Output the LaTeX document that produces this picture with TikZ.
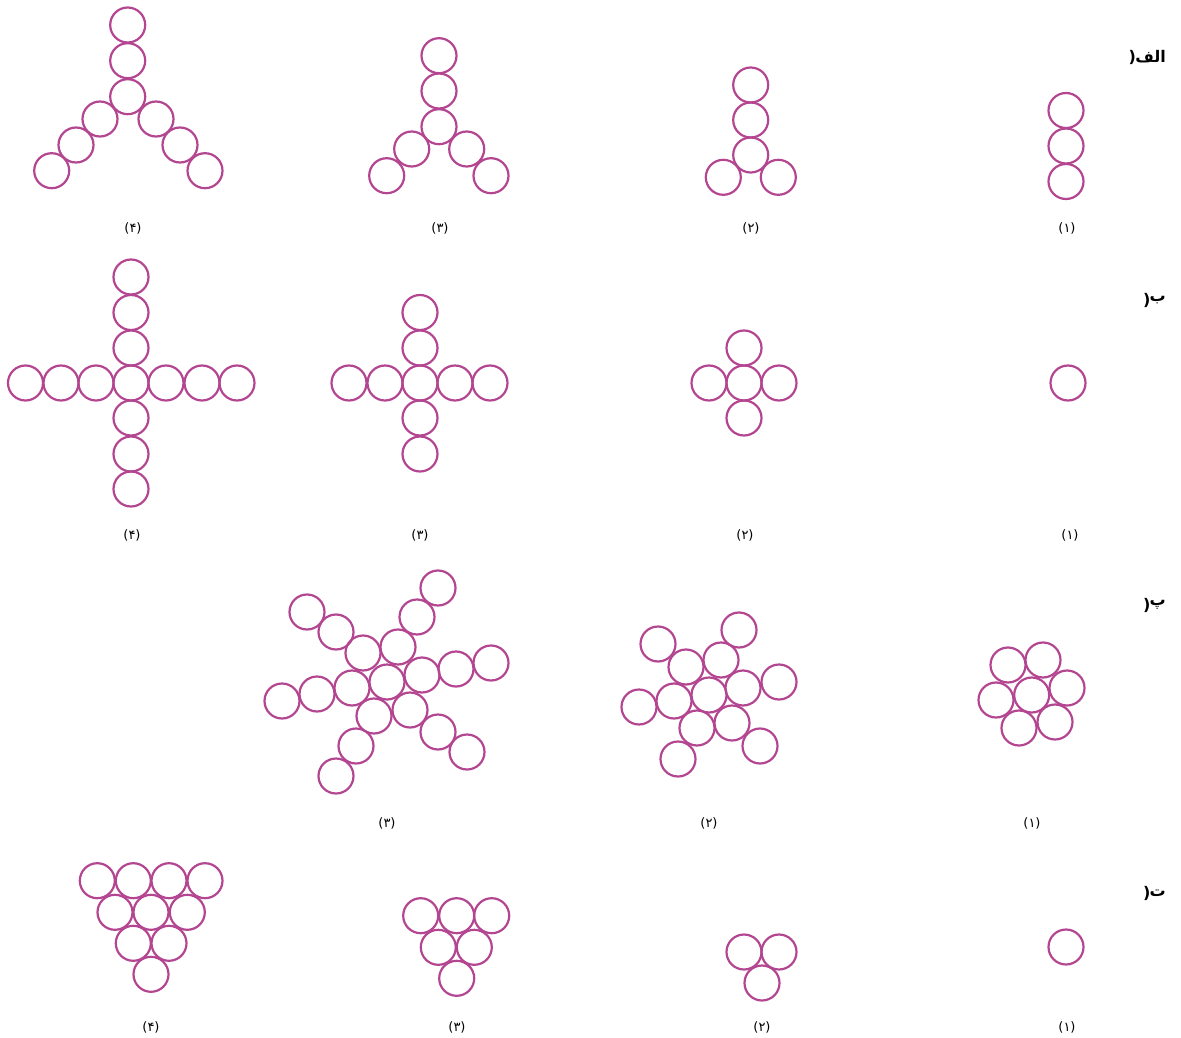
\documentclass[tikz,border=0pt]{standalone}
\usepackage{fontspec}
\newfontfamily\arabicfont[Script=Arabic]{DejaVu Sans}
\TeXXeTstate=1
\definecolor{ringc}{RGB}{180,70,145}
\begin{document}
\begin{tikzpicture}[x=1pt,y=-1pt]
\tikzset{
  ring/.style={circle,draw=ringc,line width=2.2pt,minimum size=35pt,inner sep=0pt,outer sep=0pt},
  lab/.style={font=\arabicfont\fontsize{13}{15}\selectfont,inner sep=0pt},
  head/.style={font=\arabicfont\bfseries\fontsize{16}{19}\selectfont,inner sep=0pt,anchor=east},
  paren/.style={font=\arabicfont\bfseries\fontsize{16}{19}\selectfont,inner sep=0pt,anchor=east}
}
\useasboundingbox (0,0) rectangle (1181,1038);
% Row alef
\foreach \x/\y [count=\i] in {1066/110.5,1066/146,1066/181.5}
  \node[ring] (a1-\i) at (\x,\y) {};
\foreach \x/\y [count=\i] in {750.7/85,750.7/120,750.7/155,723.3/177.3,778.3/177.3}
  \node[ring] (a2-\i) at (\x,\y) {};
\foreach \x/\y [count=\i] in {439/55.7,439/91,439/126.7,411.7/149,386.7/175.7,466.7/149,491/175.7}
  \node[ring] (a3-\i) at (\x,\y) {};
\foreach \x/\y [count=\i] in {127.7/25,127.7/60.7,127.7/96.7,100/119,76/145,51.7/170.7,156/119,180/145,205/170.7}
  \node[ring] (a4-\i) at (\x,\y) {};
% Row be
\node[ring] (b1-1) at (1068,383) {};
\foreach \x/\y [count=\i] in {744/383,744/348,744/418,709/383,779/383}
  \node[ring] (b2-\i) at (\x,\y) {};
\foreach \x/\y [count=\i] in {420/383,420/348,420/312.5,420/418,420/454,385/383,349/383,455/383,490/383}
  \node[ring] (b3-\i) at (\x,\y) {};
\foreach \x/\y [count=\i] in {131/383,131/348,131/312.5,131/277,131/418,131/454,131/489,96/383,61/383,25.5/383,166/383,202/383,237/383}
  \node[ring] (b4-\i) at (\x,\y) {};
% Row pe
\foreach \x/\y [count=\i] in {1031.7/695,1008/665,1043/660,996/700,1067/688,1019/728,1055/722}
  \node[ring] (p1-\i) at (\x,\y) {};
\foreach \x/\y [count=\i] in {709/695,686/667,721/660,743/688,732/723,697/728,674/701,658/644,739/630,779/682,760/746,678/759,639/707}
  \node[ring] (p2-\i) at (\x,\y) {};
\foreach \x/\y [count=\i] in {387/682,363/653,398/647,422/675,410/710,374/716,352/688,336/632,417/617,456/669,438/732,356/746,317/694,307/612,438/588,491/663,467/752,336/776,282/701}
  \node[ring] (p3-\i) at (\x,\y) {};
% Row te
\node[ring] (t1-1) at (1066,947) {};
\foreach \x/\y [count=\i] in {744/952,779/952,762/983}
  \node[ring] (t2-\i) at (\x,\y) {};
\foreach \x/\y [count=\i] in {420.7/915.7,456.7/915.7,491.7/915.7,438.3/947.3,474.3/947.3,456.7/978.3}
  \node[ring] (t3-\i) at (\x,\y) {};
\foreach \x/\y [count=\i] in {97.3/880.7,133.3/880.7,169/880.7,205/880.7,115/912.3,151/912.3,187.3/912.3,133.3/943.3,169/943.3,151/974.3}
  \node[ring] (t4-\i) at (\x,\y) {};
% Number labels
\node[lab] (la4) at (133,228) {(۴)};
\node[lab] (la3) at (440,228) {(۳)};
\node[lab] (la2) at (751,228) {(۲)};
\node[lab] (la1) at (1067,228) {(۱)};
\node[lab] (lb4) at (132,535) {(۴)};
\node[lab] (lb3) at (420,535) {(۳)};
\node[lab] (lb2) at (745,535) {(۲)};
\node[lab] (lb1) at (1070,535) {(۱)};
\node[lab] (lp3) at (387,823) {(۳)};
\node[lab] (lp2) at (709,823) {(۲)};
\node[lab] (lp1) at (1032,823) {(۱)};
\node[lab] (lt4) at (151,1027) {(۴)};
\node[lab] (lt3) at (457,1027) {(۳)};
\node[lab] (lt2) at (762,1027) {(۲)};
\node[lab] (lt1) at (1067,1027) {(۱)};
% Row heads
\node[head] (ha) at (1166,57) {\beginR الف\endR};
\node[paren] (pa) at ([xshift=1pt]ha.west) {(};
\node[head] (hb) at (1166,300) {\beginR ب\endR};
\node[paren] (pb) at ([xshift=1pt]hb.west) {(};
\node[head] (hp) at (1166,605) {\beginR پ\endR};
\node[paren] (pp) at ([xshift=1pt]hp.west) {(};
\node[head] (ht) at (1166,893) {\beginR ت\endR};
\node[paren] (pt) at ([xshift=1pt]ht.west) {(};
\end{tikzpicture}
\end{document}
